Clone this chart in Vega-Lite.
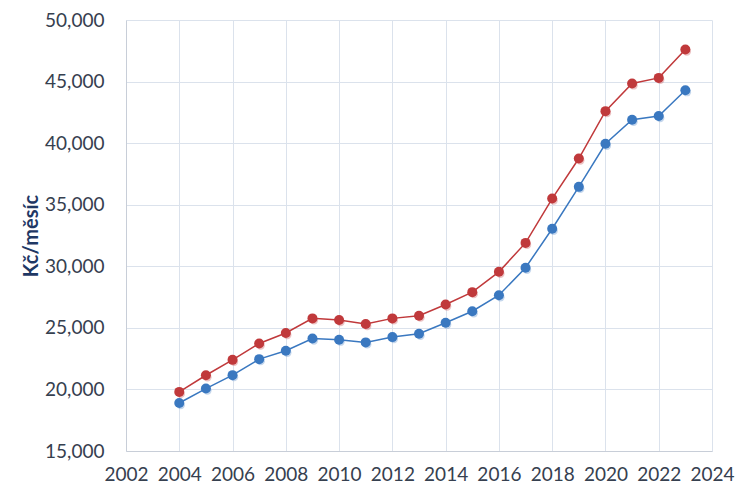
{
  "$schema": "https://vega.github.io/schema/vega-lite/v6.json",
  "width": 586,
  "height": 431,
  "autosize": "none",
  "padding": {"left": 126, "top": 20, "right": 25, "bottom": 37},
  "background": "white",
  "config": {
    "view": {"stroke": null},
    "font": "Lato"
  },
  "data": {
    "values": [
      {"year": 2004, "series": "horní", "value": 19800},
      {"year": 2005, "series": "horní", "value": 21150},
      {"year": 2006, "series": "horní", "value": 22400},
      {"year": 2007, "series": "horní", "value": 23730},
      {"year": 2008, "series": "horní", "value": 24580},
      {"year": 2009, "series": "horní", "value": 25770},
      {"year": 2010, "series": "horní", "value": 25640},
      {"year": 2011, "series": "horní", "value": 25310},
      {"year": 2012, "series": "horní", "value": 25770},
      {"year": 2013, "series": "horní", "value": 25990},
      {"year": 2014, "series": "horní", "value": 26900},
      {"year": 2015, "series": "horní", "value": 27900},
      {"year": 2016, "series": "horní", "value": 29550},
      {"year": 2017, "series": "horní", "value": 31900},
      {"year": 2018, "series": "horní", "value": 35500},
      {"year": 2019, "series": "horní", "value": 38750},
      {"year": 2020, "series": "horní", "value": 42600},
      {"year": 2021, "series": "horní", "value": 44850},
      {"year": 2022, "series": "horní", "value": 45300},
      {"year": 2023, "series": "horní", "value": 47600},
      {"year": 2004, "series": "dolní", "value": 18900},
      {"year": 2005, "series": "dolní", "value": 20070},
      {"year": 2006, "series": "dolní", "value": 21160},
      {"year": 2007, "series": "dolní", "value": 22460},
      {"year": 2008, "series": "dolní", "value": 23140},
      {"year": 2009, "series": "dolní", "value": 24140},
      {"year": 2010, "series": "dolní", "value": 24040},
      {"year": 2011, "series": "dolní", "value": 23820},
      {"year": 2012, "series": "dolní", "value": 24250},
      {"year": 2013, "series": "dolní", "value": 24520},
      {"year": 2014, "series": "dolní", "value": 25420},
      {"year": 2015, "series": "dolní", "value": 26350},
      {"year": 2016, "series": "dolní", "value": 27650},
      {"year": 2017, "series": "dolní", "value": 29880},
      {"year": 2018, "series": "dolní", "value": 33050},
      {"year": 2019, "series": "dolní", "value": 36450},
      {"year": 2020, "series": "dolní", "value": 39950},
      {"year": 2021, "series": "dolní", "value": 41900},
      {"year": 2022, "series": "dolní", "value": 42200},
      {"year": 2023, "series": "dolní", "value": 44300}
    ]
  },
  "encoding": {
    "x": {
      "field": "year",
      "type": "quantitative",
      "scale": {"domain": [2002, 2024], "nice": false, "zero": false},
      "axis": {
        "title": null,
        "values": [2002, 2004, 2006, 2008, 2010, 2012, 2014, 2016, 2018, 2020, 2022, 2024],
        "format": "d",
        "labelFontSize": 19,
        "labelColor": "#36404f",
        "labelPadding": 14,
        "ticks": false,
        "domainColor": "#c8ced8",
        "gridColor": "#dbe2ec",
        "labelFlush": false,
        "labelOverlap": false
      }
    },
    "y": {
      "field": "value",
      "type": "quantitative",
      "scale": {"domain": [15000, 50000], "nice": false, "zero": false},
      "axis": {
        "title": "Kč/měsíc",
        "titleFontSize": 20,
        "titleFontWeight": "bold",
        "titleColor": "#1f3864",
        "titlePadding": 3,
        "values": [15000, 20000, 25000, 30000, 35000, 40000, 45000, 50000],
        "format": ",.0f",
        "labelFontSize": 19,
        "labelColor": "#36404f",
        "labelPadding": 22,
        "ticks": false,
        "domainColor": "#c8ced8",
        "gridColor": "#dbe2ec",
        "labelOverlap": false
      }
    },
    "color": {
      "field": "series",
      "type": "nominal",
      "scale": {"domain": ["horní", "dolní"], "range": ["#c0393b", "#3a78c0"]},
      "legend": null
    }
  },
  "layer": [
    {"mark": {"type": "line", "strokeWidth": 1.5}},
    {"mark": {"type": "point", "filled": true, "size": 70, "color": "#8a9099", "opacity": 0.3, "xOffset": 1.5, "yOffset": 2}},
    {"mark": {"type": "point", "filled": true, "size": 100, "opacity": 1}}
  ]
}
